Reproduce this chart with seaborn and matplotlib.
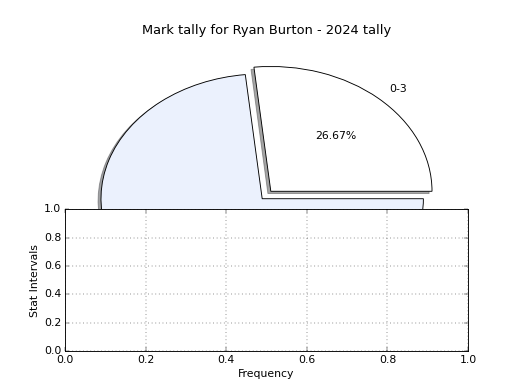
import matplotlib
matplotlib.use("Agg")
import matplotlib.pyplot as plt
import seaborn as sns

labels = ["0-3", "4-6"]
shares = [26.67, 73.33]
colors = ["#ffffff", "#ebf1fd"]
explode = [0.04, 0.04]

title = "Mark tally for Ryan Burton - 2024 tally"
xlabel = "Frequency"
ylabel = "Stat Intervals"

plt.style.use("classic")
sns.set_palette(colors)

fig = plt.figure(figsize=(8, 6), dpi=65)
ax = fig.add_axes([0.125, 0.1, 0.775, 0.8])
ax.pie(shares, labels=labels, colors=colors, explode=explode,
       autopct="%1.2f%%", shadow=True, startangle=0,
       wedgeprops=dict(edgecolor="black", linewidth=1.0))
ax.set_aspect("auto")
ax.set_xlim(-1.25, 1.25)
ax.set_ylim(-1.25, 1.25)
ax.set_title(title, fontsize=14.4)

ax2 = fig.add_subplot(2, 1, 2)
ax2.grid(True, linestyle=":", color="black", linewidth=0.5)
ax2.set_xlabel(xlabel, fontsize=12)
ax2.set_ylabel(ylabel, fontsize=12)
ax2.tick_params(labelsize=12)
sns.despine(ax=ax2, top=False, right=False, left=False, bottom=False)

fig.savefig("out.png", dpi=65)
